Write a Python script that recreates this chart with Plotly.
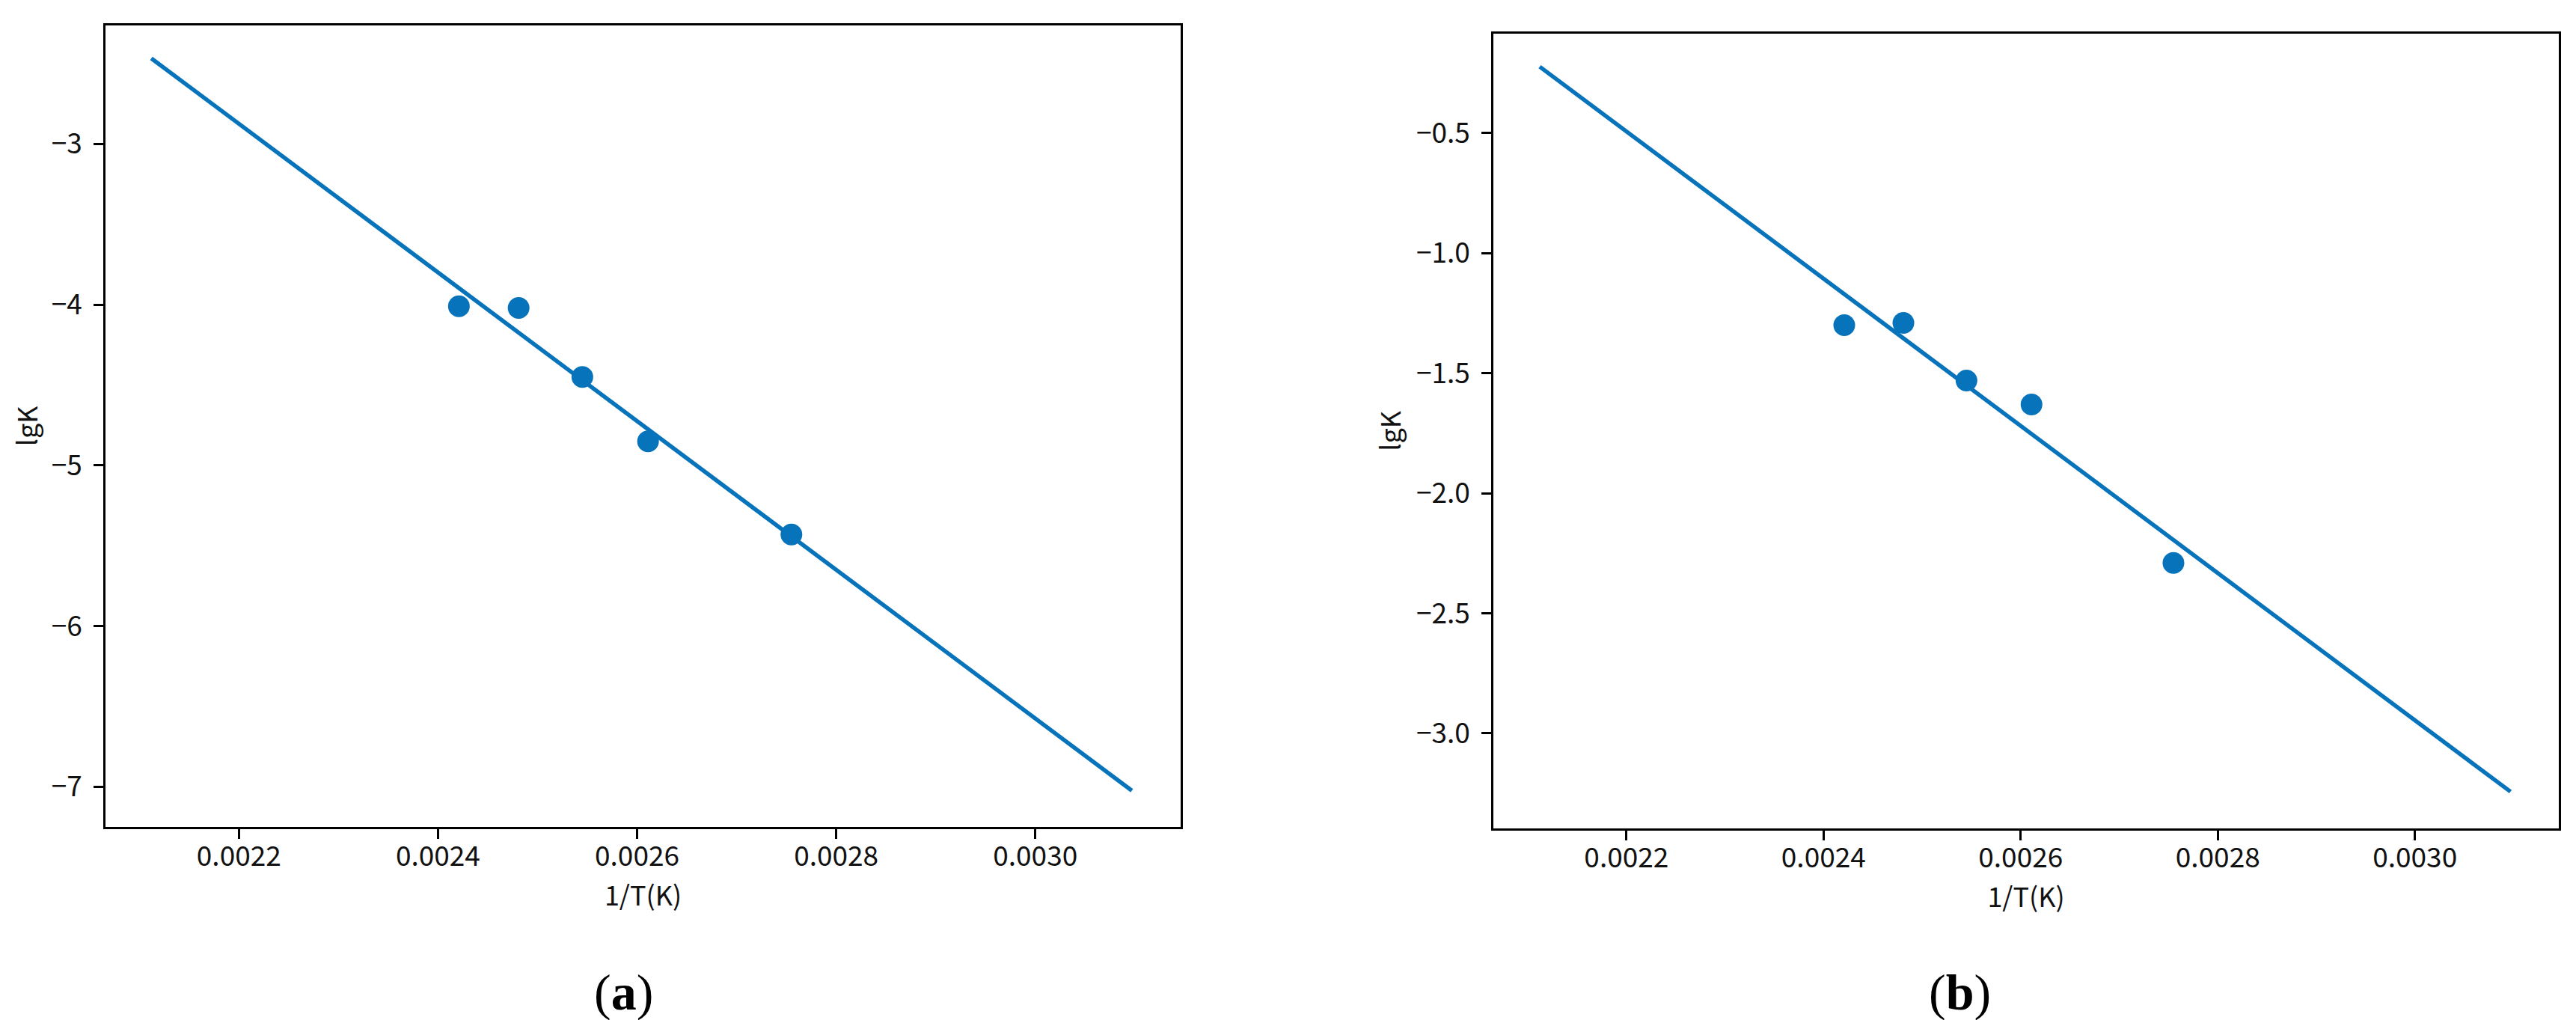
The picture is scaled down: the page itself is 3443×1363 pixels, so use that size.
import plotly.graph_objects as go

# ---- data ----
inv_T = [0.002421, 0.002481, 0.002545, 0.002611, 0.002755]      # 1/T (K^-1)
lgK_a = [-4.01, -4.02, -4.45, -4.85, -5.43]
lgK_b = [-1.30, -1.29, -1.53, -1.63, -2.29]

fit_x = [0.002112, 0.003097]
fit_a = [-2.467, -7.023]
fit_b = [-0.223, -3.243]

x_ticks = [0.0022, 0.0024, 0.0026, 0.0028, 0.0030]
x_ticktext = ["0.0022", "0.0024", "0.0026", "0.0028", "0.0030"]
y_ticks_a = [-3, -4, -5, -6, -7]
y_ticks_b = [-0.5, -1.0, -1.5, -2.0, -2.5, -3.0]
y_ticktext_b = ["\u22120.5", "\u22121.0", "\u22121.5", "\u22122.0", "\u22122.5", "\u22123.0"]

BLUE = "#0673bb"
FONT = "Noto Sans CJK SC"
TXT = "#111111"

fig = go.Figure()

for xa, ya, ys, fy in [("x", "y", lgK_a, fit_a), ("x2", "y2", lgK_b, fit_b)]:
    fig.add_trace(go.Scatter(x=fit_x, y=fy, mode="lines", xaxis=xa, yaxis=ya,
                             line=dict(color=BLUE, width=5.5), showlegend=False,
                             hoverinfo="skip"))
    fig.add_trace(go.Scatter(x=inv_T, y=ys, mode="markers", xaxis=xa, yaxis=ya,
                             marker=dict(color=BLUE, size=29, line=dict(width=0)),
                             showlegend=False))

axis_common = dict(showline=True, mirror=True, linecolor="black", linewidth=2.5,
                   ticks="outside", ticklen=13, tickwidth=2.5, tickcolor="black",
                   showgrid=False, zeroline=False,
                   tickfont=dict(family=FONT, size=37, color=TXT))

fig.update_layout(
    width=3443, height=1363,
    margin=dict(l=0, r=0, t=0, b=0),
    paper_bgcolor="white", plot_bgcolor="white",
    xaxis=dict(axis_common, domain=[0.03863, 0.45600], range=[0.002066, 0.003146],
               tickvals=x_ticks, ticktext=x_ticktext, anchor="y",
               ticklabelstandoff=-8,
               title=dict(text="1/T(K)", standoff=0, font=dict(family=FONT, size=36, color=TXT))),
    yaxis=dict(axis_common, domain=[0.19516, 0.98129], range=[-7.249, -2.26],
               tickvals=y_ticks_a, anchor="x", ticklabelstandoff=8,
               title=dict(text="lgK", standoff=10, font=dict(family=FONT, size=36, color=TXT))),
    xaxis2=dict(axis_common, domain=[0.57741, 0.99100], range=[0.002065, 0.003146],
                tickvals=x_ticks, ticktext=x_ticktext, anchor="y2",
                ticklabelstandoff=-8,
                title=dict(text="1/T(K)", standoff=0, font=dict(family=FONT, size=36, color=TXT))),
    yaxis2=dict(axis_common, domain=[0.19369, 0.97322], range=[-3.396, -0.084],
                tickvals=y_ticks_b, ticktext=y_ticktext_b, anchor="x2", ticklabelstandoff=8,
                title=dict(text="lgK", standoff=10, font=dict(family=FONT, size=36, color=TXT))),
    annotations=[
        dict(text="(<b>a</b>)", x=0.2399, y=0.033, xref="paper", yref="paper",
             showarrow=False, xanchor="center", yanchor="middle",
             font=dict(family="Liberation Serif", size=68, color="black")),
        dict(text="(<b>b</b>)", x=0.7584, y=0.033, xref="paper", yref="paper",
             showarrow=False, xanchor="center", yanchor="middle",
             font=dict(family="Liberation Serif", size=68, color="black")),
    ],
)

fig.write_html("out.html")
